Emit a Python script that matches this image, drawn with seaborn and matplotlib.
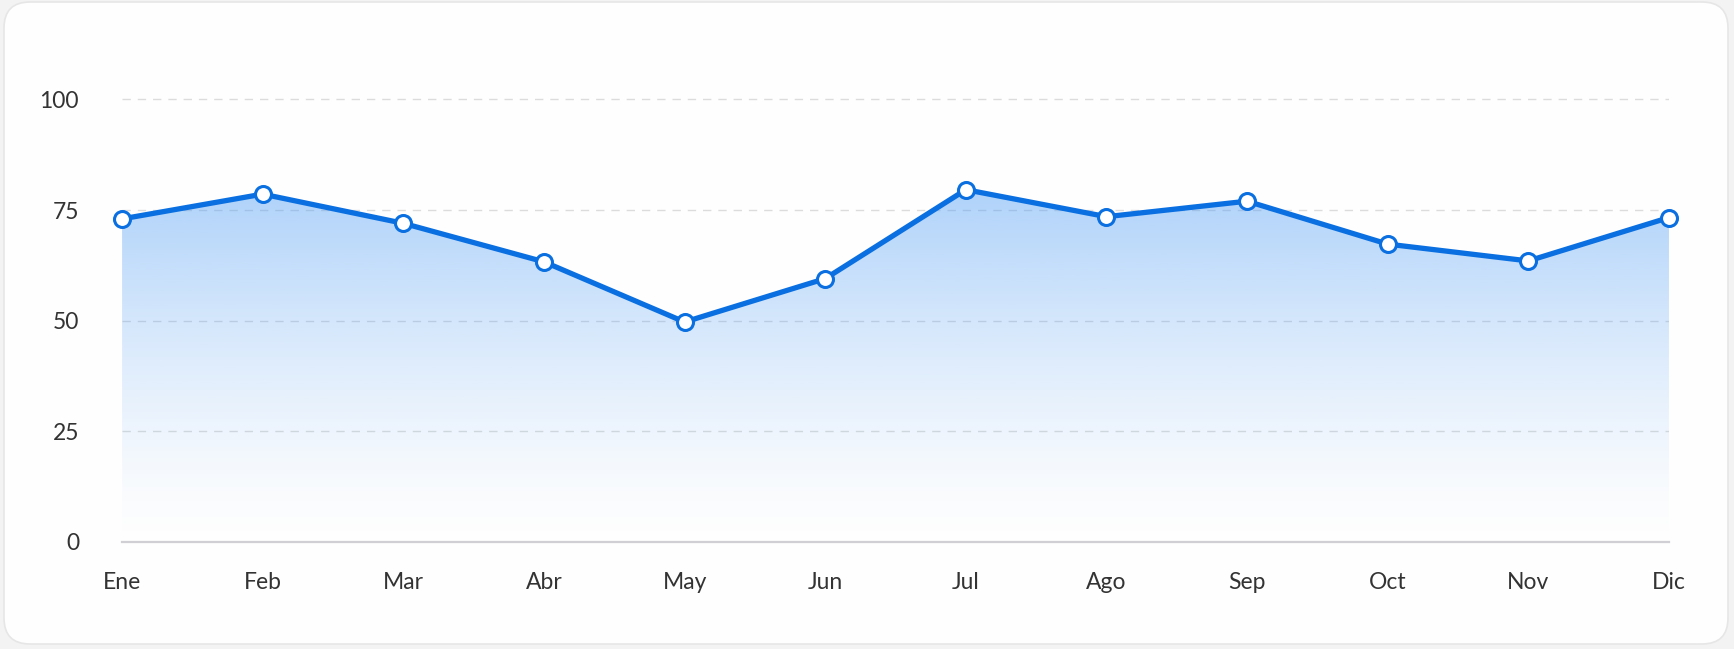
import numpy as np
import matplotlib
matplotlib.use("Agg")
import matplotlib.pyplot as plt
from matplotlib.patches import FancyBboxPatch
from matplotlib.colors import to_rgb
import seaborn as sns

# Datos
meses = ["Ene", "Feb", "Mar", "Abr", "May", "Jun", "Jul", "Ago", "Sep", "Oct", "Nov", "Dic"]
valores = [73, 78.6, 72, 63.3, 49.7, 59.5, 79.6, 73.5, 77, 67.3, 63.5, 73.3]
ticks_y = [0, 25, 50, 75, 100]

azul = "#0a6fe0"
azul_relleno = "#4a9af5"

sns.set_theme(style="white")
plt.rcParams["font.family"] = ["Lato", "DejaVu Sans"]

fig = plt.figure(figsize=(17.34, 6.49), dpi=100, facecolor="#f3f3f3")

# tarjeta con esquinas redondeadas (detras de los ejes)
tarjeta = FancyBboxPatch((4, 5), 1724, 642, boxstyle="round,pad=0,rounding_size=26",
                         transform=None, facecolor="#fefefe", edgecolor="#e6e6e6",
                         linewidth=1.2, zorder=-5)
fig.patches.append(tarjeta)

ax = fig.add_axes([0.0704, 0.165, 0.8921, 0.75])
ax.set_facecolor("none")
ax.set_zorder(1)

x = np.arange(len(meses))

# relleno con degradado (mas intenso arriba, casi blanco abajo)
relleno = ax.fill_between(x, valores, 0, facecolor="none", edgecolor="none")
r, g, b = to_rgb(azul_relleno)
n = 256
tope = max(valores)
alfa = 0.44 * (np.linspace(0, 1, n) ** 1.35)
img = np.zeros((n, 1, 4))
img[..., 0], img[..., 1], img[..., 2] = r, g, b
img[..., 3] = alfa.reshape(-1, 1)
im = ax.imshow(img, aspect="auto", origin="lower",
               extent=[0, len(meses) - 1, 0, tope], zorder=1)
im.set_clip_path(relleno.get_paths()[0], transform=ax.transData)

sns.lineplot(x=x, y=valores, ax=ax, color=azul, linewidth=3.8, marker="o",
             markersize=11.5, markerfacecolor="white", markeredgecolor=azul,
             markeredgewidth=2.2, zorder=3)
ax.lines[-1].set_clip_on(False)

ax.set_xlim(0, len(meses) - 1)
ax.set_ylim(0, 110)
ax.set_xticks(x)
ax.set_xticklabels(meses)
ax.set_yticks(ticks_y)
ax.set_xlabel("")
ax.set_ylabel("")

for t in ticks_y[1:]:
    ax.axhline(t, color="#dcdcdc", linewidth=1, linestyle=(0, (6, 5)), zorder=0.5)

for lado in ["top", "right", "left"]:
    ax.spines[lado].set_visible(False)
ax.spines["bottom"].set_color("#cfcfd4")
ax.spines["bottom"].set_linewidth(1.6)

ax.tick_params(axis="x", length=0, pad=22, labelsize=16.5, labelcolor="#333333")
ax.tick_params(axis="y", length=0, pad=31, labelsize=16.5, labelcolor="#333333")
for lbl in ax.get_yticklabels():
    lbl.set_horizontalalignment("right")

fig.savefig("out.png", dpi=100, facecolor=fig.get_facecolor())
